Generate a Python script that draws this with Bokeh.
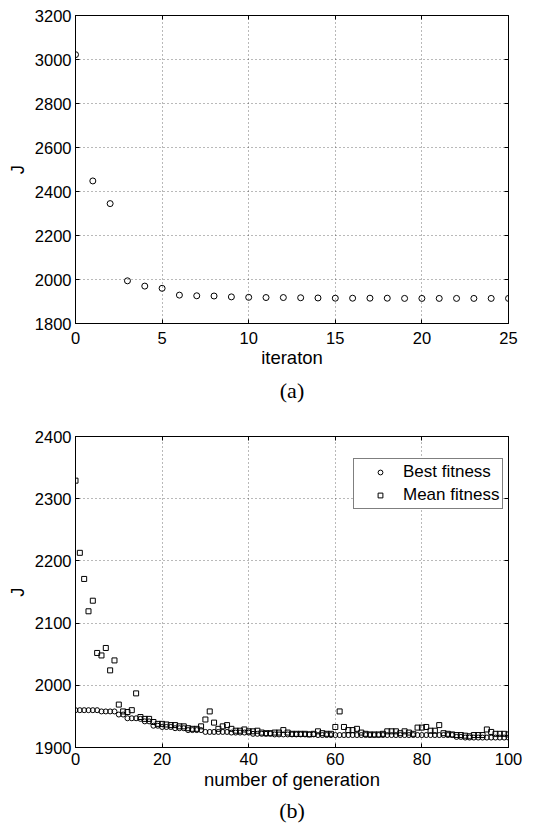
from bokeh.plotting import figure
from bokeh.models import (LinearAxis, Range1d, Title, Legend, LegendItem,
                          FixedTicker, CustomJSTickFormatter)
from bokeh.layouts import column
from bokeh.embed import file_html
from bokeh.resources import INLINE

# ---------------- data ----------------
iterations = list(range(26))
J_iter = [3022, 2448, 2345, 1994, 1970, 1960, 1929, 1926, 1925, 1921,
          1919, 1918, 1918, 1917, 1916, 1915, 1915, 1915, 1915, 1914,
          1914, 1914, 1914, 1914, 1914, 1914]

generations = list(range(101))
best_fitness = [1960, 1960, 1960, 1960, 1960, 1960, 1958, 1958, 1958, 1958,
                1953, 1953, 1947, 1947, 1947, 1946, 1942, 1942, 1935, 1935,
                1933, 1933, 1933, 1931, 1931, 1931, 1928, 1928, 1928, 1928,
                1925, 1925, 1925, 1925, 1925, 1925, 1924, 1924, 1924, 1924,
                1924, 1922, 1922, 1922, 1922, 1922, 1921, 1921, 1921, 1921,
                1921, 1921, 1921, 1921, 1921, 1921, 1920, 1920, 1920, 1920,
                1920, 1920, 1920, 1920, 1920, 1920, 1920, 1920, 1920, 1920,
                1920, 1920, 1920, 1920, 1920, 1920, 1920, 1920, 1920, 1920,
                1920, 1920, 1920, 1920, 1920, 1920, 1920, 1920, 1917, 1917,
                1916, 1916, 1916, 1916, 1916, 1916, 1916, 1916, 1916, 1916,
                1916]
mean_fitness = [2329, 2213, 2171, 2119, 2136, 2052, 2048, 2060, 2024, 2040,
                1969, 1958, 1957, 1960, 1987, 1949, 1946, 1946, 1941, 1938,
                1938, 1937, 1936, 1936, 1934, 1934, 1931, 1930, 1930, 1934,
                1945, 1958, 1940, 1930, 1934, 1936, 1930, 1927, 1927, 1929,
                1926, 1926, 1927, 1924, 1923, 1923, 1924, 1924, 1928, 1924,
                1922, 1922, 1922, 1922, 1921, 1922, 1926, 1923, 1922, 1922,
                1933, 1958, 1933, 1928, 1928, 1930, 1924, 1922, 1921, 1921,
                1921, 1922, 1926, 1926, 1926, 1923, 1926, 1924, 1922, 1932,
                1932, 1933, 1927, 1927, 1936, 1923, 1922, 1921, 1920, 1920,
                1919, 1918, 1920, 1920, 1920, 1929, 1925, 1922, 1922, 1922,
                1921]

a_xticks = [0, 5, 10, 15, 20, 25]
a_yticks = [1800, 2000, 2200, 2400, 2600, 2800, 3000, 3200]
b_xticks = [0, 20, 40, 60, 80, 100]
b_yticks = [1900, 2000, 2100, 2200, 2300, 2400]

SANS = "Liberation Sans"
SERIF = "Liberation Serif"
TICK_FS = "16.5px"
LABEL_FS = "18.5px"


def style(p, xticks, yticks, xlabel, ylabel, caption, x_standoff, xl_standoff, cap_standoff):
    p.outline_line_color = "black"
    p.outline_line_width = 1
    p.background_fill_color = "white"
    p.border_fill_color = "white"
    for ax, ticks in ((p.xaxis[0], xticks), (p.yaxis[0], yticks)):
        ax.ticker = FixedTicker(ticks=ticks)
        ax.major_tick_in = 4
        ax.major_tick_out = 0
        ax.minor_tick_line_color = None
        ax.axis_line_color = "black"
        ax.major_tick_line_color = "black"
        ax.major_label_text_font = SANS
        ax.major_label_text_font_size = TICK_FS
        ax.major_label_text_color = "black"
        ax.axis_label_text_font = SANS
        ax.axis_label_text_font_size = LABEL_FS
        ax.axis_label_text_font_style = "normal"
        ax.axis_label_text_color = "black"
    p.xaxis[0].axis_label = xlabel
    p.yaxis[0].axis_label = ylabel
    p.xaxis[0].major_label_standoff = x_standoff
    p.xaxis[0].axis_label_standoff = xl_standoff
    p.yaxis[0].major_label_standoff = 4
    p.yaxis[0].axis_label_standoff = 4
    # mirrored tick marks (box on)
    blank = CustomJSTickFormatter(code="return '';")
    right = LinearAxis(ticker=FixedTicker(ticks=yticks), formatter=blank,
                       major_tick_in=4, major_tick_out=0, major_label_standoff=0,
                       minor_tick_line_color=None, axis_line_color="black")
    top = LinearAxis(ticker=FixedTicker(ticks=xticks), formatter=blank,
                     major_tick_in=4, major_tick_out=0, major_label_standoff=0,
                     minor_tick_line_color=None, axis_line_color="black")
    p.add_layout(right, "right")
    p.add_layout(top, "above")
    for g in (p.xgrid[0], p.ygrid[0]):
        g.grid_line_color = "black"
        g.grid_line_alpha = 0.55
        g.grid_line_dash = "1 3"
        g.grid_line_width = 1
    p.xgrid[0].ticker = FixedTicker(ticks=xticks)
    p.ygrid[0].ticker = FixedTicker(ticks=yticks)
    p.add_layout(Title(text=caption, align="center", text_font=SERIF,
                       text_font_size="22px", text_font_style="normal",
                       text_color="black", standoff=cap_standoff), "below")


# ---------------- figure (a) ----------------
pa = figure(width=540, height=410, x_range=Range1d(0, 25),
            y_range=Range1d(1800, 3200), output_backend="svg",
            toolbar_location=None, min_border_left=75, min_border_right=32,
            min_border_top=15, min_border_bottom=87)
pa.scatter(iterations, J_iter, marker="circle", size=6, line_color="black",
           line_width=1, fill_alpha=0)
style(pa, a_xticks, a_yticks, "iteraton", "J", "(a)", 8, 0, 11)

# ---------------- figure (b) ----------------
pb = figure(width=540, height=416, x_range=Range1d(0, 100),
            y_range=Range1d(1900, 2400), output_backend="svg",
            toolbar_location=None, min_border_left=75, min_border_right=32,
            min_border_top=26, min_border_bottom=79)
rb = pb.scatter(generations, best_fitness, marker="circle", size=5,
                line_color="black", line_width=1, fill_alpha=0)
rm = pb.scatter(generations, mean_fitness, marker="square", size=5,
                line_color="black", line_width=1, fill_alpha=0)
style(pb, b_xticks, b_yticks, "number of generation", "J", "(b)", 5, 1, 6)

legend = Legend(items=[LegendItem(label="Best fitness", renderers=[rb]),
                       LegendItem(label="Mean fitness", renderers=[rm])],
                location=(278, 238), margin=0, padding=3, spacing=3,
                glyph_width=46, glyph_height=12, label_height=20,
                label_standoff=0, label_text_font=SANS,
                label_text_font_size="17px", label_text_color="black",
                border_line_color="black", border_line_width=1,
                background_fill_color="white", background_fill_alpha=1)
pb.add_layout(legend, "center")

layout = column(pa, pb, spacing=0)
open("out.html", "w").write(file_html(layout, INLINE))
